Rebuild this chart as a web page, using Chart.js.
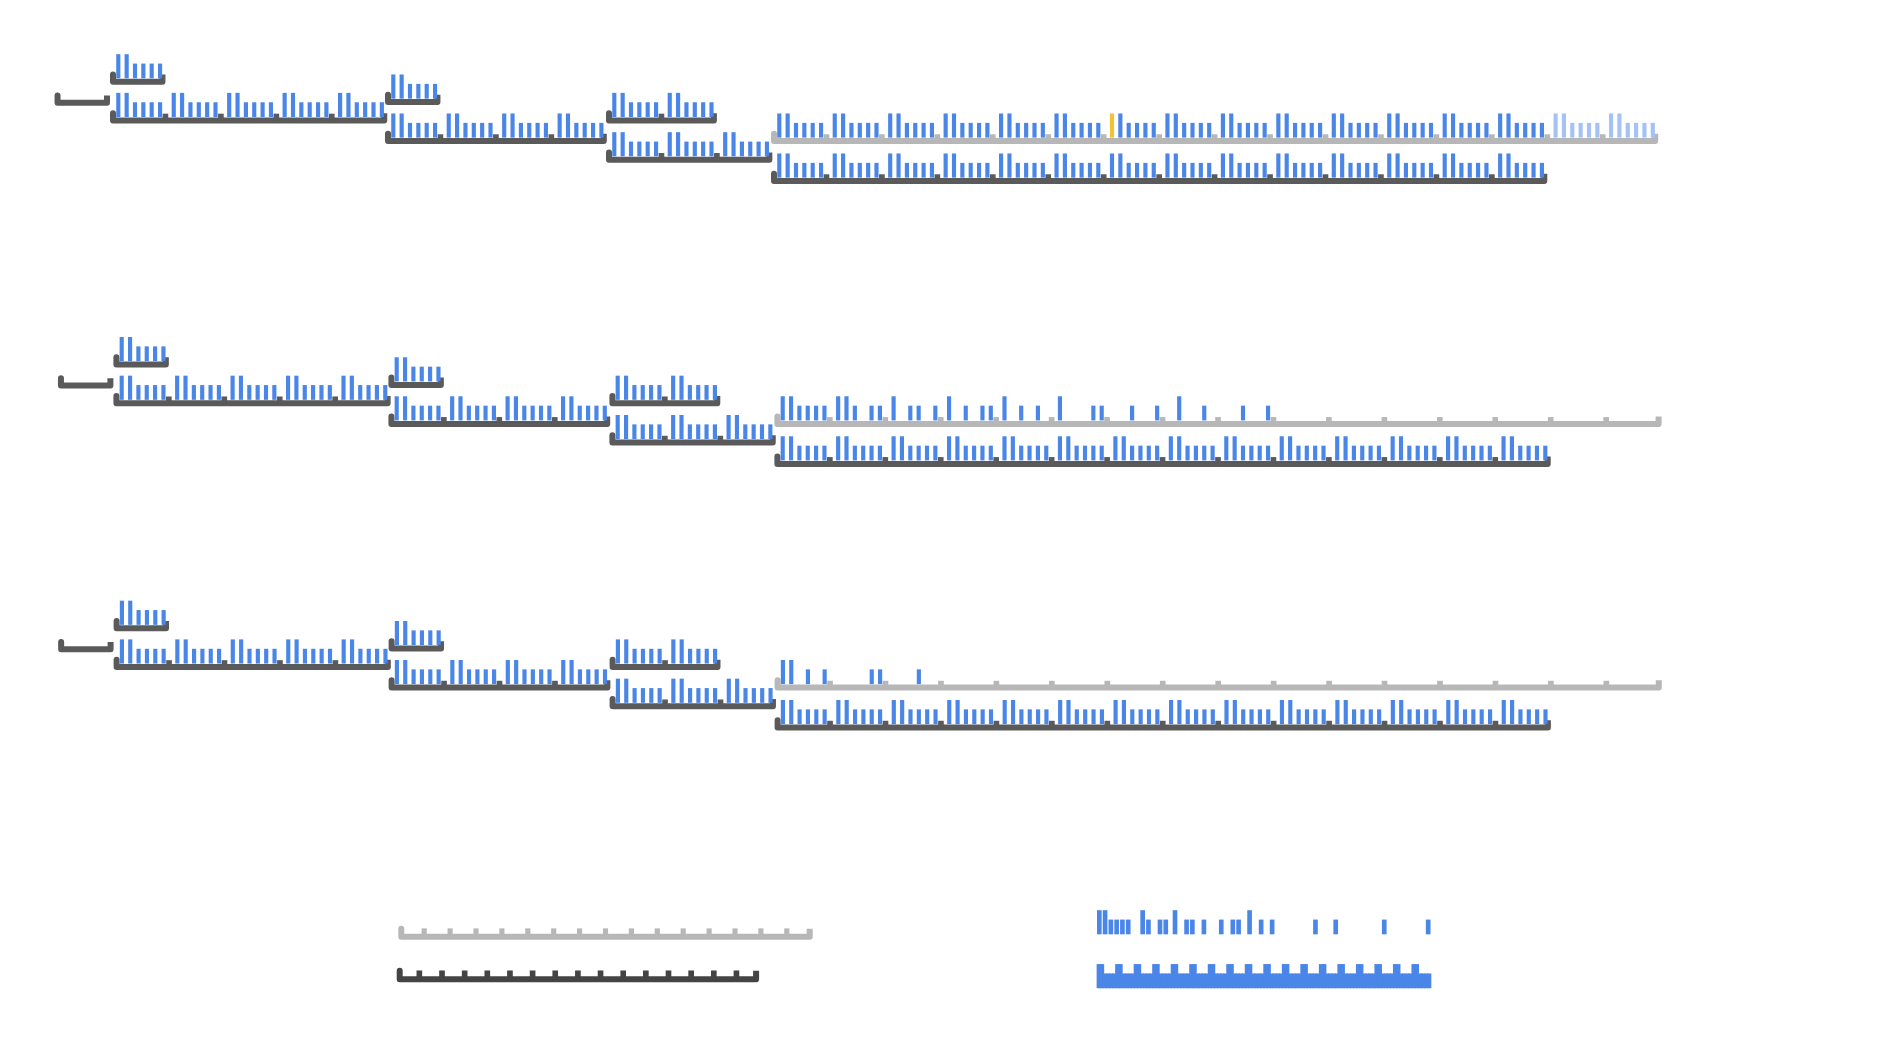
<!DOCTYPE html>
<html>
<head>
<meta charset="utf-8">
<script src="https://cdn.jsdelivr.net/npm/chart.js@4.4.1/dist/chart.umd.min.js"></script>
<style>
html,body{margin:0;padding:0;background:#ffffff;overflow:hidden;}
canvas{display:block;}
</style>
</head>
<body>
<canvas id="c" width="1894" height="1053"></canvas>
<script>
// ================= DATA =================
// relative heights of the six bars that make up one segment
const segmentBarHeights = [5, 5, 3, 3, 3, 3];
// number of segments in each bracket of a staircase row (A..H)
const blockSegments = [1, 5, 1, 4, 2, 3, 16, 14];
// bars present on the light-grey bracket (block G), one mask per segment
const row1GrayMask = ['111111','111111','111111','111111','111111','111111','111111','111111',
                      '111111','111111','111111','111111','111111','111111','111111','111111'];
const row2GrayMask = ['111111','111011','101101','101011','101010','100011','001001','010010',
                      '001001','000000','000000','000000','000000','000000','000000','000000'];
const row3GrayMask = ['110101','000011','000100','000000','000000','000000','000000','000000',
                      '000000','000000','000000','000000','000000','000000','000000','000000'];
const row1FadedSegments = [14, 15];
const row1HighlightBar = [6, 0];          // [segment, bar] drawn in yellow
const bottomGraySegments = 16;
const bottomDarkSegments = 16;
const sparseSlots   = [0, 1, 2, 3, 4, 5, 7.5, 8.5, 10.5, 11.5, 13.1, 15.1, 16.1, 18.1, 21.1, 23.1, 24.1, 26, 28, 29.9, 37.4, 40.9, 49.3, 56.9];
const sparseHeights = [5, 5, 3, 3, 3, 3, 5,   3,   3,    3,    5,    3,    3,    3,    3,    3,    3,    5,  3,  3,    3,    3,    3,    3];
const solidGroups = 18;

// ================= LAYOUT / STYLE =================
const U = 4.7;            // px per height unit
const W = 55.45;          // segment width
const PITCH = 8.35;       // bar pitch inside a segment
const OFF = 8.3;          // first bar centre from segment start
const BW = 3.5;           // bar thickness
const LW = 6;             // bracket line width
const BLUE = '#4a86e8', FADED = '#a4c2f4', YELLOW = '#f1c232';
const GRAY = '#b7b7b7', DARK = '#5a5a5a', DARK2 = '#444444';

const blockStart = [110, 110, 385, 385, 606, 606, 771, 771];
const blockBase = [78, 116.7, 98.3, 137.3, 116.7, 156, 137.3, 177.3];
const emptyBase = 99;
const rows = [
  {dx: 0,   dy: 0,     mask: row1GrayMask},
  {dx: 3.4, dy: 282.8, mask: row2GrayMask},
  {dx: 3.6, dy: 546.5, mask: row3GrayMask}
];

// ================= BUILD DATASETS =================
const datasets = [];
const barGroups = {};
function addRect(color, x, y0, y1, thick) {
  const key = color + '|' + thick;
  if (!barGroups[key]) barGroups[key] = {color, thick, data: []};
  barGroups[key].data.push({x: x, y: [y0, y1]});
}
function addBar(color, x, base, h, thick) {
  addRect(color, x, base, base - h * U, thick);
}
function addBracket(s, n, w, yc, endRise, tickRise, color, tickW) {
  const pts = [];
  pts.push({x: s + LW / 2, y: yc - LW / 2 - endRise}, {x: s + LW / 2, y: yc});
  pts.push({x: s + n * w - LW / 2, y: yc}, {x: s + n * w - LW / 2, y: yc - LW / 2 - endRise});
  datasets.push({
    type: 'line', data: pts, borderColor: color, borderWidth: LW,
    borderJoinStyle: 'round', borderCapStyle: 'butt', pointRadius: 0,
    fill: false, tension: 0, order: 3
  });
  for (let k = 1; k < n; k++) {
    addRect(color, s + k * w, yc, yc - LW / 2 - tickRise, tickW);
  }
}

rows.forEach((row, r) => {
  // empty bracket on the far left
  addBracket(blockStart[0] + row.dx - W, 1, W, emptyBase + row.dy + 3.8, 4.3, 0, DARK, 5);
  blockSegments.forEach((n, b) => {
    const s = blockStart[b] + row.dx;
    const base = blockBase[b] + row.dy;
    const isGray = (b === 6);
    addBracket(s, n, W, base + 3.8, 4.3, 3.5, isGray ? GRAY : DARK, 5);
    for (let g = 0; g < n; g++) {
      for (let i = 0; i < 6; i++) {
        let color = BLUE;
        if (isGray) {
          if (row.mask[g][i] !== '1') continue;
          if (r === 0 && row1FadedSegments.includes(g)) color = FADED;
          if (r === 0 && g === row1HighlightBar[0] && i === row1HighlightBar[1]) color = YELLOW;
        }
        addBar(color, s + g * W + OFF + i * PITCH, base, segmentBarHeights[i], BW);
      }
    }
  });
});

// bottom brackets
addBracket(398.3, bottomGraySegments, 25.9, 936.7, 5, 5, GRAY, 4.5);
addBracket(396.7, bottomDarkSegments, 22.65, 979.3, 5.5, 5.5, DARK2, 5);

// bottom right sparse bars
sparseSlots.forEach((slot, k) => {
  addBar(BLUE, 1099.3 + slot * 5.78, 934, sparseHeights[k], 4);
});
// bottom right solid block
const SOL_X0 = 1097.3, SOL_W = 18.52;
for (let g = 0; g < solidGroups; g++) {
  for (let i = 0; i < 6; i++) {
    addBar(BLUE, SOL_X0 + g * SOL_W + (i + 0.5) * SOL_W / 6, 987.9, segmentBarHeights[i], SOL_W / 6 + 0.7);
  }
}

Object.values(barGroups).forEach(g => {
  datasets.push({
    type: 'bar', data: g.data, backgroundColor: g.color, borderWidth: 0,
    barThickness: g.thick, grouped: false, order: 1
  });
});

new Chart(document.getElementById('c'), {
  type: 'bar',
  data: {datasets},
  options: {
    responsive: false,
    animation: false,
    devicePixelRatio: 1,
    layout: {padding: 0},
    plugins: {legend: {display: false}, tooltip: {enabled: false}},
    scales: {
      x: {type: 'linear', min: 0, max: 1894, display: false, offset: false, grid: {offset: false}},
      y: {type: 'linear', min: 0, max: 1053, reverse: true, display: false, beginAtZero: false}
    }
  }
});
</script>
</body>
</html>
